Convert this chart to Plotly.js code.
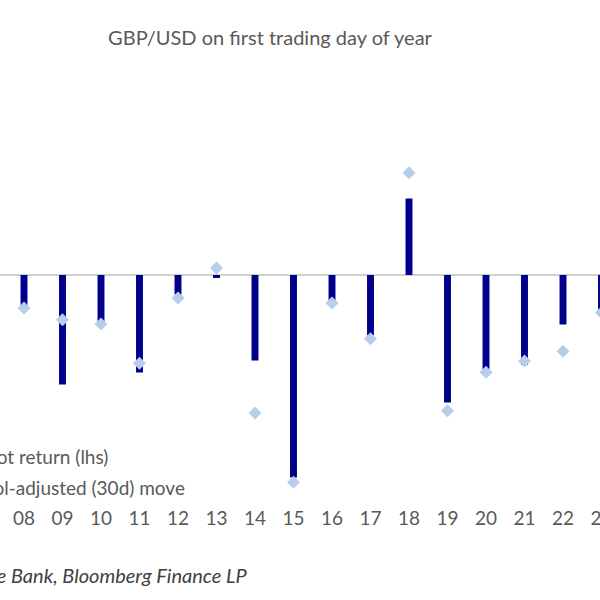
<!DOCTYPE html>
<html><head><meta charset="utf-8">
<script src="https://cdn.plot.ly/plotly-3.0.1.min.js"></script>
<style>html,body{margin:0;padding:0;overflow:hidden;width:600px;height:600px;background:#fff}
#chart{position:absolute;left:-150px;top:0;width:900px;height:600px}</style>
</head><body><div id="chart"></div>
<script>
const years = [8,9,10,11,12,13,14,15,16,17,18,19,20,21,22,23];
const tickYears = [7,8,9,10,11,12,13,14,15,16,17,18,19,20,21,22,23];
const tickLabels = ["07","08","09","10","11","12","13","14","15","16","17","18","19","20","21","22","23"];
const spotReturn = [-0.20,-0.73,-0.31,-0.65,-0.13,-0.02,-0.57,-1.35,-0.17,-0.40,0.51,-0.85,-0.63,-0.60,-0.33,-0.27];
const volAdjMove = [-0.47,-0.64,-0.70,-1.26,-0.33,0.10,-1.97,-2.96,-0.40,-0.91,1.46,-1.94,-1.39,-1.23,-1.09,-0.54];

const grey = '#595959';
const fontFam = 'Lato, "Liberation Sans", sans-serif';
const data = [
  {type:'bar', x:years, y:spotReturn, width:0.18, marker:{color:'#00008c'}, name:'Spot return (lhs)', yaxis:'y'},
  {type:'scatter', mode:'markers', x:years, y:volAdjMove, marker:{symbol:'diamond', size:10, color:'#b7cdeb'}, name:'Vol-adjusted (30d) move', yaxis:'y2'}
];
const layout = {
  width:900, height:600,
  margin:{l:100, r:100, t:60, b:95},
  paper_bgcolor:'#fff', plot_bgcolor:'#fff',
  showlegend:false,
  font:{family:fontFam, color:grey},
  title:{text:'GBP/USD on first trading day of year', x:(270+150)/900, xref:'container', xanchor:'center', y:0.937, yref:'container', yanchor:'middle', font:{size:20, color:grey, family:fontFam}},
  xaxis:{range:[6.078,24.26], tickvals:tickYears, ticktext:tickLabels, showgrid:false, zeroline:false, showline:false, ticks:'', tickfont:{size:19, color:grey}},
  yaxis:{range:[-1.5333,1.4333], showgrid:false, zeroline:true, zerolinecolor:'#d0d0d0', zerolinewidth:1.5, showticklabels:false, ticks:''},
  yaxis2:{range:[-3.286,3.071], overlaying:'y', side:'right', showgrid:false, zeroline:false, showticklabels:false, ticks:''},
  annotations:[
    {xref:'paper', yref:'paper', x:(110+50)/700, y:0.1079, xanchor:'right', yanchor:'middle', showarrow:false, text:'Spot return (lhs)', font:{size:19, color:grey}},
    {xref:'paper', yref:'paper', x:(187+50)/700, y:0.0404, xanchor:'right', yanchor:'middle', showarrow:false, text:'Vol-adjusted (30d) move', font:{size:19, color:grey}},
    {xref:'paper', yref:'paper', x:(250+50)/700, y:-0.157, xanchor:'right', yanchor:'middle', showarrow:false, text:'<i>Source: Deutsche Bank, Bloomberg Finance LP</i>', font:{size:20, color:'#404040'}}
  ]
};
Plotly.newPlot('chart', data, layout, {displayModeBar:false, staticPlot:true});
</script></body></html>
